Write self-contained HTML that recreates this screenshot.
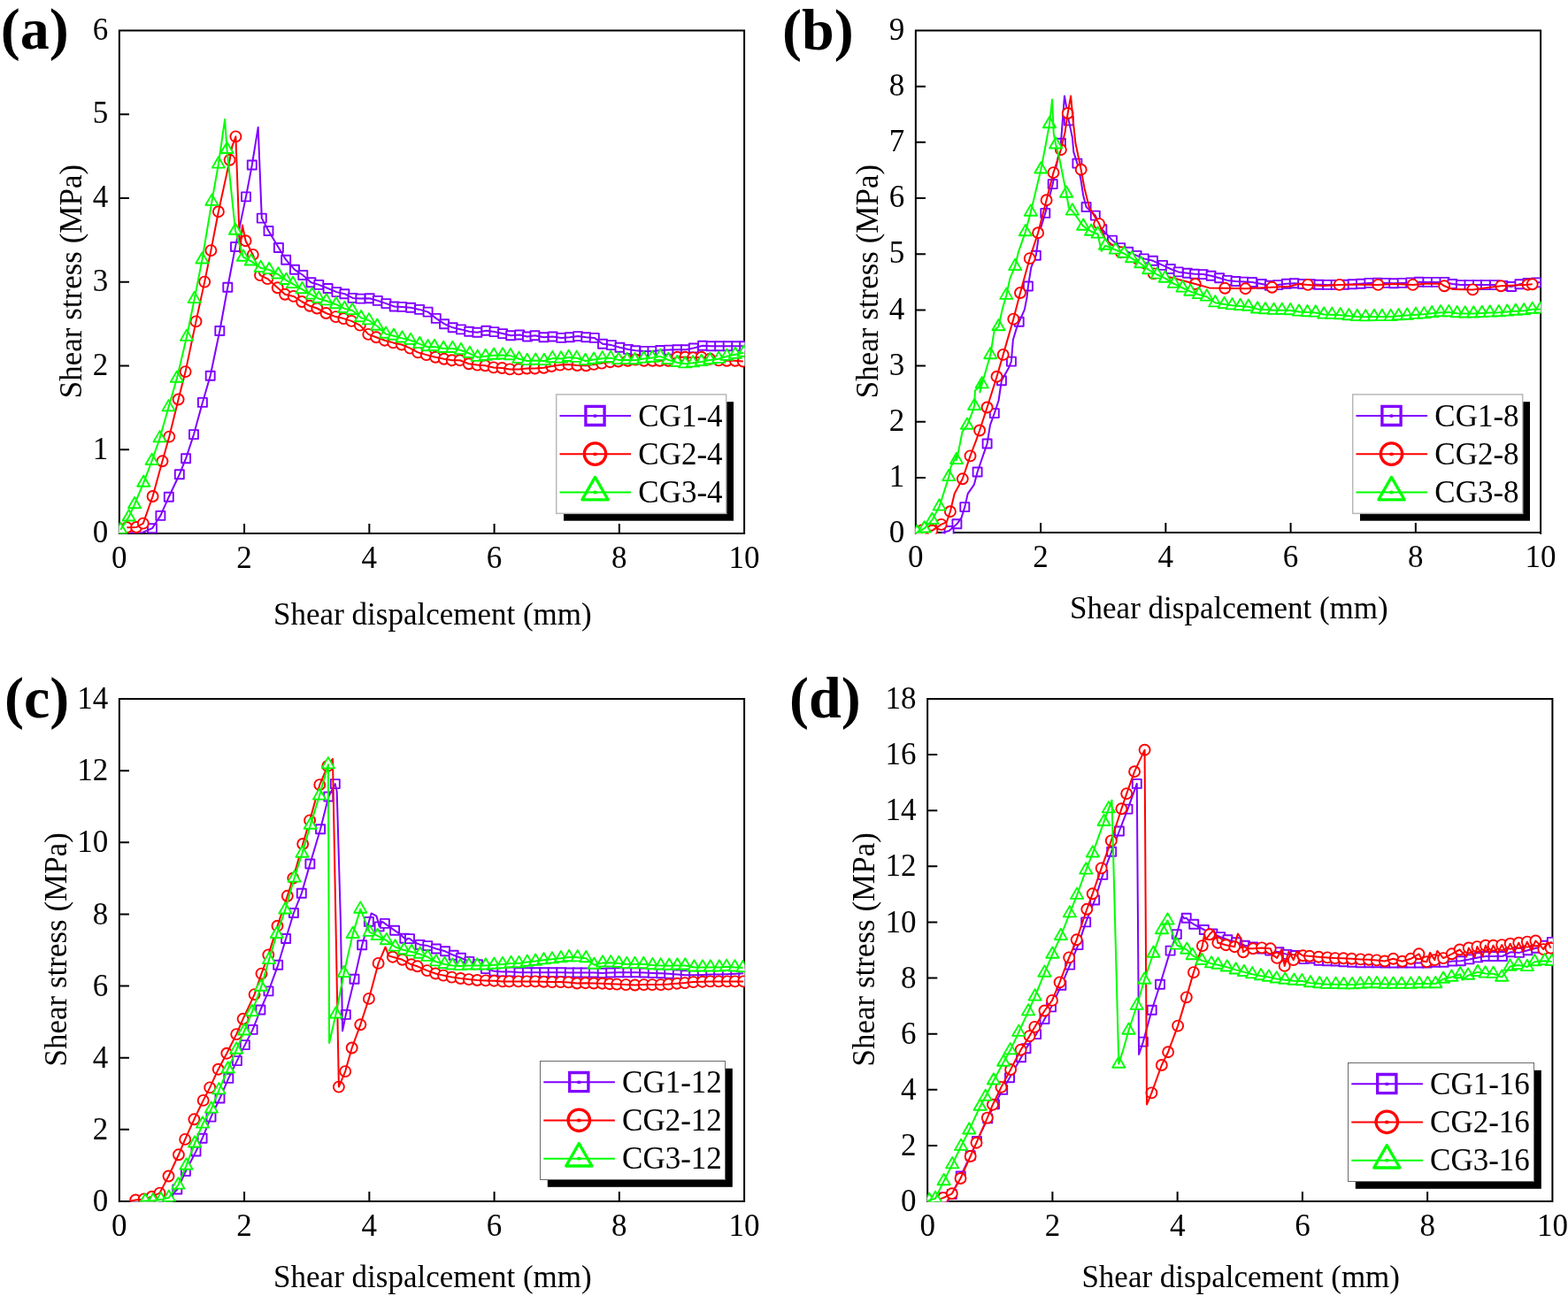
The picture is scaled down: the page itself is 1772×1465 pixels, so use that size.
<!DOCTYPE html>
<html lang="en">
<head>
<meta charset="utf-8">
<title>Shear stress versus shear displacement curves</title>
<style>
html,body{margin:0;padding:0;background:#fff;}
body{width:1772px;height:1465px;overflow:hidden;}
svg{display:block;font-family:"Liberation Serif","DejaVu Serif",serif;font-size:35px;fill:#000;}
</style>
</head>
<body>
<svg xmlns="http://www.w3.org/2000/svg" width="1772" height="1465" viewBox="0 0 1772 1465">
<rect width="1772" height="1465" fill="#fff"/>
<defs><path id="sq" d="M-5 -5h10v10h-10z"/><path id="ci" d="M-6 0a6 6 0 1 0 12 0a6 6 0 1 0 -12 0z"/><path id="tr" d="M0 -8.2L7.1 4.1L-7.1 4.1z"/></defs>
<g class="panel">
<text x="122.25" y="613.3" text-anchor="end">0</text>
<text x="122.25" y="518.53" text-anchor="end">1</text>
<text x="122.25" y="423.77" text-anchor="end">2</text>
<text x="122.25" y="329" text-anchor="end">3</text>
<text x="122.25" y="234.23" text-anchor="end">4</text>
<text x="122.25" y="139.47" text-anchor="end">5</text>
<text x="122.25" y="44.7" text-anchor="end">6</text>
<text x="134.85" y="642.2" text-anchor="middle">0</text>
<text x="276.1" y="642.2" text-anchor="middle">2</text>
<text x="417.35" y="642.2" text-anchor="middle">4</text>
<text x="558.6" y="642.2" text-anchor="middle">6</text>
<text x="699.85" y="642.2" text-anchor="middle">8</text>
<text x="841.1" y="642.2" text-anchor="middle">10</text>
<path d="M133.85 34.5H842.1M134.85 34.5V604.1M841.1 34.5V604.1M133.85 603.1H842.1M134.85 508.33h11.1M134.85 413.57h11.1M134.85 318.8h11.1M134.85 224.03h11.1M134.85 129.27h11.1M276.1 603.1v-11.1M417.35 603.1v-11.1M558.6 603.1v-11.1M699.85 603.1v-11.1" stroke="#000" stroke-width="2" fill="none"/>
<clipPath id="cp0"><rect x="134.35" y="34" width="707.25" height="569.6"/></clipPath>
<g clip-path="url(#cp0)" stroke-linejoin="round">
<g fill="#fff" stroke="#8000ff" stroke-width="1.9">
<use href="#sq" x="172" y="597.2"/><use href="#sq" x="181.4" y="582.9"/><use href="#sq" x="190.8" y="561.7"/><use href="#sq" x="202.8" y="536.3"/><use href="#sq" x="210.1" y="518.2"/><use href="#sq" x="219" y="491.1"/><use href="#sq" x="228.9" y="454.9"/><use href="#sq" x="237.7" y="424.7"/><use href="#sq" x="248.3" y="374"/><use href="#sq" x="257.3" y="324.8"/><use href="#sq" x="266" y="279"/><use href="#sq" x="278" y="222.4"/><use href="#sq" x="284.8" y="186.5"/><use href="#sq" x="295.8" y="246.6"/><use href="#sq" x="303.5" y="261"/><use href="#sq" x="314.9" y="280"/><use href="#sq" x="323.2" y="293.7"/><use href="#sq" x="333" y="304.8"/><use href="#sq" x="342.3" y="311"/><use href="#sq" x="351.5" y="319.2"/><use href="#sq" x="360.3" y="321.9"/><use href="#sq" x="370.6" y="326"/><use href="#sq" x="380.4" y="330.1"/><use href="#sq" x="389.4" y="332.2"/><use href="#sq" x="398.6" y="336.9"/><use href="#sq" x="407.4" y="337.6"/><use href="#sq" x="417.7" y="337.2"/><use href="#sq" x="426.8" y="339.9"/><use href="#sq" x="436.4" y="343.1"/><use href="#sq" x="445.7" y="346.5"/><use href="#sq" x="454.5" y="346.9"/><use href="#sq" x="464.1" y="347.8"/><use href="#sq" x="474.1" y="349.9"/><use href="#sq" x="483.6" y="352.6"/><use href="#sq" x="492.8" y="359.9"/><use href="#sq" x="502.1" y="366.2"/><use href="#sq" x="511.7" y="370.3"/><use href="#sq" x="521" y="372.4"/><use href="#sq" x="530.2" y="374.8"/><use href="#sq" x="539.4" y="375.8"/><use href="#sq" x="549.4" y="373.7"/><use href="#sq" x="558.5" y="375.1"/><use href="#sq" x="568.1" y="377.1"/><use href="#sq" x="577.2" y="379.2"/><use href="#sq" x="587.2" y="378.5"/><use href="#sq" x="596" y="380.5"/><use href="#sq" x="604.5" y="379.2"/><use href="#sq" x="614.5" y="381.2"/><use href="#sq" x="624.7" y="380.5"/><use href="#sq" x="634.3" y="381.9"/><use href="#sq" x="643.8" y="381.2"/><use href="#sq" x="653.1" y="380.1"/><use href="#sq" x="662.3" y="381.2"/><use href="#sq" x="671.8" y="381.9"/><use href="#sq" x="681" y="388.7"/><use href="#sq" x="690.9" y="390.1"/><use href="#sq" x="700.5" y="392.8"/><use href="#sq" x="710" y="394.9"/><use href="#sq" x="718.2" y="396.2"/><use href="#sq" x="728.5" y="396.9"/><use href="#sq" x="737.4" y="396.9"/><use href="#sq" x="746.3" y="396"/><use href="#sq" x="755.8" y="395.6"/><use href="#sq" x="765.4" y="395.2"/><use href="#sq" x="774.9" y="395.2"/><use href="#sq" x="783.8" y="393.5"/><use href="#sq" x="794.1" y="390.8"/><use href="#sq" x="803.6" y="391.2"/><use href="#sq" x="813.2" y="391.2"/><use href="#sq" x="822.7" y="391.2"/><use href="#sq" x="832.3" y="391.2"/><use href="#sq" x="841.2" y="391.2"/>
</g>
<path d="M145.6 602.3L161 602L172 597.2L181.4 582.9L190.8 561.7L202.8 536.3L210.1 518.2L219 491.1L228.9 454.9L237.7 424.7L248.3 374L257.3 324.8L266 279L278 222.4L284.8 186.5L291.7 143.9L295.8 246.6L303.5 261L314.9 280L323.2 293.7L333 304.8L342.3 311L351.5 319.2L360.3 321.9L370.6 326L380.4 330.1L389.4 332.2L398.6 336.9L407.4 337.6L417.7 337.2L426.8 339.9L436.4 343.1L445.7 346.5L454.5 346.9L464.1 347.8L474.1 349.9L483.6 352.6L492.8 359.9L502.1 366.2L511.7 370.3L521 372.4L530.2 374.8L539.4 375.8L549.4 373.7L558.5 375.1L568.1 377.1L577.2 379.2L587.2 378.5L596 380.5L604.5 379.2L614.5 381.2L624.7 380.5L634.3 381.9L643.8 381.2L653.1 380.1L662.3 381.2L671.8 381.9L681 388.7L690.9 390.1L700.5 392.8L710 394.9L718.2 396.2L728.5 396.9L737.4 396.9L746.3 396L755.8 395.6L765.4 395.2L774.9 395.2L783.8 393.5L794.1 390.8L803.6 391.2L813.2 391.2L822.7 391.2L832.3 391.2L841.2 391.2" fill="none" stroke="#8000ff" stroke-width="2.0"/>
<g fill="#fff" stroke="#ff0000" stroke-width="1.9">
<use href="#ci" x="143.4" y="596.3"/><use href="#ci" x="154.1" y="596"/><use href="#ci" x="161.8" y="591.6"/><use href="#ci" x="172.6" y="561"/><use href="#ci" x="183.5" y="521.3"/><use href="#ci" x="191.3" y="493.6"/><use href="#ci" x="201.6" y="451.5"/><use href="#ci" x="209.6" y="420.1"/><use href="#ci" x="221.5" y="363.4"/><use href="#ci" x="231.2" y="318.6"/><use href="#ci" x="238.4" y="283.1"/><use href="#ci" x="246.9" y="239.2"/><use href="#ci" x="259.6" y="180.8"/><use href="#ci" x="266.4" y="154.4"/><use href="#ci" x="277.6" y="272.2"/><use href="#ci" x="285.8" y="287.9"/><use href="#ci" x="294" y="311.1"/><use href="#ci" x="302.3" y="315.1"/><use href="#ci" x="313.7" y="325.3"/><use href="#ci" x="322.1" y="332.8"/><use href="#ci" x="331.7" y="334.9"/><use href="#ci" x="341.2" y="341"/><use href="#ci" x="350.1" y="345.8"/><use href="#ci" x="358.3" y="348.5"/><use href="#ci" x="368.5" y="354"/><use href="#ci" x="379.5" y="358.1"/><use href="#ci" x="388.3" y="360.1"/><use href="#ci" x="397.2" y="362.9"/><use href="#ci" x="406.8" y="367.6"/><use href="#ci" x="416.3" y="377.9"/><use href="#ci" x="425.2" y="381.3"/><use href="#ci" x="434.7" y="384.7"/><use href="#ci" x="444.3" y="387.4"/><use href="#ci" x="453.9" y="389.5"/><use href="#ci" x="463.4" y="393.6"/><use href="#ci" x="472.3" y="398.4"/><use href="#ci" x="481.8" y="401.1"/><use href="#ci" x="492.1" y="403.8"/><use href="#ci" x="501.8" y="405.8"/><use href="#ci" x="510.7" y="407.2"/><use href="#ci" x="519.6" y="407.2"/><use href="#ci" x="529.8" y="411.3"/><use href="#ci" x="539.4" y="412.6"/><use href="#ci" x="548.3" y="413.3"/><use href="#ci" x="557.8" y="415.4"/><use href="#ci" x="567.4" y="416"/><use href="#ci" x="576.2" y="417.4"/><use href="#ci" x="586.2" y="417.4"/><use href="#ci" x="595.4" y="416.5"/><use href="#ci" x="604.5" y="416.5"/><use href="#ci" x="614.5" y="415.8"/><use href="#ci" x="623.3" y="414"/><use href="#ci" x="632.9" y="412.6"/><use href="#ci" x="642.5" y="411.9"/><use href="#ci" x="652.3" y="413"/><use href="#ci" x="662.3" y="413.3"/><use href="#ci" x="671.1" y="411.9"/><use href="#ci" x="680" y="410.6"/><use href="#ci" x="689.6" y="409.2"/><use href="#ci" x="698.8" y="408.5"/><use href="#ci" x="709.4" y="407.8"/><use href="#ci" x="718.2" y="406.5"/><use href="#ci" x="727.8" y="407.8"/><use href="#ci" x="737.4" y="407.8"/><use href="#ci" x="745.6" y="407.8"/><use href="#ci" x="755.2" y="407.8"/><use href="#ci" x="765.4" y="403.8"/><use href="#ci" x="774.3" y="403.8"/><use href="#ci" x="783.1" y="404.4"/><use href="#ci" x="792.7" y="403.8"/><use href="#ci" x="802.3" y="405.8"/><use href="#ci" x="812.2" y="407.4"/><use href="#ci" x="821.4" y="407.8"/><use href="#ci" x="830.9" y="407.8"/><use href="#ci" x="839.8" y="408.5"/>
</g>
<path d="M143.4 596.3L154.1 596L161.8 591.6L172.6 561L183.5 521.3L191.3 493.6L201.6 451.5L209.6 420.1L221.5 363.4L231.2 318.6L238.4 283.1L246.9 239.2L259.6 180.8L262.3 165.7L266.4 154.4L271.2 285.2L273.9 254.5L277.6 272.2L285.8 287.9L294 311.1L302.3 315.1L313.7 325.3L322.1 332.8L331.7 334.9L341.2 341L350.1 345.8L358.3 348.5L368.5 354L379.5 358.1L388.3 360.1L397.2 362.9L406.8 367.6L416.3 377.9L425.2 381.3L434.7 384.7L444.3 387.4L453.9 389.5L463.4 393.6L472.3 398.4L481.8 401.1L492.1 403.8L501.8 405.8L510.7 407.2L519.6 407.2L529.8 411.3L539.4 412.6L548.3 413.3L557.8 415.4L567.4 416L576.2 417.4L586.2 417.4L595.4 416.5L604.5 416.5L614.5 415.8L623.3 414L632.9 412.6L642.5 411.9L652.3 413L662.3 413.3L671.1 411.9L680 410.6L689.6 409.2L698.8 408.5L709.4 407.8L718.2 406.5L727.8 407.8L737.4 407.8L745.6 407.8L755.2 407.8L765.4 403.8L774.3 403.8L783.1 404.4L792.7 403.8L802.3 405.8L812.2 407.4L821.4 407.8L830.9 407.8L839.8 408.5" fill="none" stroke="#ff0000" stroke-width="2.0"/>
<g fill="#fff" stroke="#00ff00" stroke-width="1.9">
<use href="#tr" x="136.2" y="598.9"/><use href="#tr" x="145.6" y="584.4"/><use href="#tr" x="152.1" y="570.2"/><use href="#tr" x="162.3" y="545.7"/><use href="#tr" x="171.7" y="520.9"/><use href="#tr" x="180.6" y="495.3"/><use href="#tr" x="190.5" y="460.3"/><use href="#tr" x="199.9" y="427.7"/><use href="#tr" x="211" y="380.8"/><use href="#tr" x="219.7" y="338"/><use href="#tr" x="228.5" y="293.4"/><use href="#tr" x="239.4" y="227.8"/><use href="#tr" x="246.9" y="185.5"/><use href="#tr" x="256.5" y="168.9"/><use href="#tr" x="266" y="260.6"/><use href="#tr" x="274.9" y="290.6"/><use href="#tr" x="283.8" y="295.4"/><use href="#tr" x="294.7" y="302.9"/><use href="#tr" x="304.2" y="305"/><use href="#tr" x="314.5" y="310.4"/><use href="#tr" x="323.5" y="316.9"/><use href="#tr" x="331" y="321"/><use href="#tr" x="341.5" y="327.1"/><use href="#tr" x="352.6" y="333.5"/><use href="#tr" x="360.3" y="337.6"/><use href="#tr" x="368.9" y="340.3"/><use href="#tr" x="379.9" y="344.2"/><use href="#tr" x="389.4" y="348.9"/><use href="#tr" x="398.2" y="351"/><use href="#tr" x="408.1" y="359.2"/><use href="#tr" x="417" y="362.3"/><use href="#tr" x="426.3" y="368.7"/><use href="#tr" x="436.1" y="377.6"/><use href="#tr" x="445" y="379.7"/><use href="#tr" x="454.5" y="382.4"/><use href="#tr" x="464.1" y="384.8"/><use href="#tr" x="474.3" y="388.9"/><use href="#tr" x="483.6" y="392.2"/><use href="#tr" x="491" y="391.9"/><use href="#tr" x="501.2" y="393.9"/><use href="#tr" x="511.4" y="393.9"/><use href="#tr" x="521" y="396"/><use href="#tr" x="530.9" y="399.8"/><use href="#tr" x="539.7" y="403.8"/><use href="#tr" x="548.7" y="402.8"/><use href="#tr" x="558.1" y="401.7"/><use href="#tr" x="568.1" y="401.4"/><use href="#tr" x="576.9" y="402.1"/><use href="#tr" x="586.5" y="405.8"/><use href="#tr" x="595.8" y="408"/><use href="#tr" x="605.3" y="407.6"/><use href="#tr" x="614.9" y="408"/><use href="#tr" x="624.3" y="405.1"/><use href="#tr" x="634" y="405.5"/><use href="#tr" x="642.7" y="403.9"/><use href="#tr" x="651.7" y="404.8"/><use href="#tr" x="661.6" y="408"/><use href="#tr" x="671.1" y="406.6"/><use href="#tr" x="680.7" y="405.3"/><use href="#tr" x="690.2" y="404.8"/><use href="#tr" x="699.1" y="406.9"/><use href="#tr" x="708.7" y="406.9"/><use href="#tr" x="717.5" y="407.2"/><use href="#tr" x="727.6" y="405.5"/><use href="#tr" x="737.1" y="404.6"/><use href="#tr" x="746.3" y="402.8"/><use href="#tr" x="755.2" y="406.9"/><use href="#tr" x="765.4" y="409.9"/><use href="#tr" x="774.3" y="411.3"/><use href="#tr" x="783.1" y="410.3"/><use href="#tr" x="792.7" y="408.9"/><use href="#tr" x="802.3" y="406.9"/><use href="#tr" x="812.2" y="405.8"/><use href="#tr" x="821.4" y="402.8"/><use href="#tr" x="830.9" y="400.8"/><use href="#tr" x="840.5" y="398.7"/>
</g>
<path d="M136.2 598.9L145.6 584.4L152.1 570.2L162.3 545.7L171.7 520.9L180.6 495.3L190.5 460.3L199.9 427.7L211 380.8L219.7 338L228.5 293.4L239.4 227.8L246.9 185.5L254.1 135L256.5 168.9L266 260.6L274.9 290.6L283.8 295.4L294.7 302.9L304.2 305L314.5 310.4L323.5 316.9L331 321L341.5 327.1L352.6 333.5L360.3 337.6L368.9 340.3L379.9 344.2L389.4 348.9L398.2 351L408.1 359.2L417 362.3L426.3 368.7L436.1 377.6L445 379.7L454.5 382.4L464.1 384.8L474.3 388.9L483.6 392.2L491 391.9L501.2 393.9L511.4 393.9L521 396L530.9 399.8L539.7 403.8L548.7 402.8L558.1 401.7L568.1 401.4L576.9 402.1L586.5 405.8L595.8 408L605.3 407.6L614.9 408L624.3 405.1L634 405.5L642.7 403.9L651.7 404.8L661.6 408L671.1 406.6L680.7 405.3L690.2 404.8L699.1 406.9L708.7 406.9L717.5 407.2L727.6 405.5L737.1 404.6L746.3 402.8L755.2 406.9L765.4 409.9L774.3 411.3L783.1 410.3L792.7 408.9L802.3 406.9L812.2 405.8L821.4 402.8L830.9 400.8L840.5 398.7" fill="none" stroke="#00ff00" stroke-width="2.0"/>
</g>
<text x="488.9" y="706" text-anchor="middle">Shear dispalcement (mm)</text>
<text transform="translate(92.3 318.1) rotate(-90)" text-anchor="middle">Shear stress (MPa)</text>
<text x="0.7" y="55.4" font-size="66" font-weight="bold">(a)</text>
<rect x="637" y="454.2" width="192" height="134.5" fill="#000"/>
<rect x="628.7" y="445.9" width="192" height="134.5" fill="#fff" stroke="#b8b8b8" stroke-width="1.5"/>
<path d="M632.5 470.1h80.6" stroke="#8000ff" stroke-width="2" fill="none"/>
<path d="M661.9 459.3h21.2v21.2h-21.2z" stroke="#8000ff" stroke-width="3.3" fill="none" stroke-linejoin="miter"/>
<ellipse cx="672.5" cy="470.1" rx="2.5" ry="1.9" fill="#8000ff"/>
<text x="721.3" y="481.7">CG1-4</text>
<path d="M632.5 513.3h80.6" stroke="#ff0000" stroke-width="2" fill="none"/>
<path d="M660.3 513.1a12.2 12.2 0 1 0 24.4 0a12.2 12.2 0 1 0 -24.4 0z" stroke="#ff0000" stroke-width="3.3" fill="none" stroke-linejoin="round"/>
<ellipse cx="672.5" cy="513.3" rx="2.5" ry="1.9" fill="#ff0000"/>
<text x="721.3" y="524.9">CG2-4</text>
<path d="M632.5 556.5h80.6" stroke="#00ff00" stroke-width="2" fill="none"/>
<path d="M672.5 539.4L687.1 564.8L657.9 564.8z" stroke="#00ff00" stroke-width="3.3" fill="none" stroke-linejoin="round"/>
<ellipse cx="672.5" cy="556.5" rx="2.5" ry="1.9" fill="#00ff00"/>
<text x="721.3" y="568.1">CG3-4</text>
</g>
<g class="panel">
<text x="1022.25" y="613.3" text-anchor="end">0</text>
<text x="1022.25" y="550.12" text-anchor="end">1</text>
<text x="1022.25" y="486.94" text-anchor="end">2</text>
<text x="1022.25" y="423.77" text-anchor="end">3</text>
<text x="1022.25" y="360.59" text-anchor="end">4</text>
<text x="1022.25" y="297.41" text-anchor="end">5</text>
<text x="1022.25" y="234.23" text-anchor="end">6</text>
<text x="1022.25" y="171.06" text-anchor="end">7</text>
<text x="1022.25" y="107.88" text-anchor="end">8</text>
<text x="1022.25" y="44.7" text-anchor="end">9</text>
<text x="1034.85" y="641.1" text-anchor="middle">0</text>
<text x="1176.1" y="641.1" text-anchor="middle">2</text>
<text x="1317.35" y="641.1" text-anchor="middle">4</text>
<text x="1458.6" y="641.1" text-anchor="middle">6</text>
<text x="1599.85" y="641.1" text-anchor="middle">8</text>
<text x="1741.1" y="641.1" text-anchor="middle">10</text>
<path d="M1033.85 34.5H1742.1M1034.85 34.5V604.1M1741.1 34.5V604.1M1033.85 602H1741.1M1034.85 539.92h11.1M1034.85 476.74h11.1M1034.85 413.57h11.1M1034.85 350.39h11.1M1034.85 287.21h11.1M1034.85 224.03h11.1M1034.85 160.86h11.1M1034.85 97.68h11.1M1176.1 602v-11.1M1317.35 602v-11.1M1458.6 602v-11.1M1599.85 602v-11.1" stroke="#000" stroke-width="2" fill="none"/>
<clipPath id="cp1"><rect x="1034.35" y="34" width="707.25" height="569.6"/></clipPath>
<g clip-path="url(#cp1)" stroke-linejoin="round">
<g fill="#fff" stroke="#8000ff" stroke-width="1.9">
<use href="#sq" x="1072.6" y="600"/><use href="#sq" x="1081.4" y="592.3"/><use href="#sq" x="1090.3" y="573.1"/><use href="#sq" x="1104.6" y="533.5"/><use href="#sq" x="1115.6" y="501.5"/><use href="#sq" x="1123.8" y="467.1"/><use href="#sq" x="1131.9" y="430.2"/><use href="#sq" x="1142.9" y="408.6"/><use href="#sq" x="1151.7" y="363.8"/><use href="#sq" x="1161.9" y="323.5"/><use href="#sq" x="1170.8" y="288.7"/><use href="#sq" x="1181.3" y="240.9"/><use href="#sq" x="1189.7" y="208.1"/><use href="#sq" x="1198.9" y="161.7"/><use href="#sq" x="1207.8" y="136.4"/><use href="#sq" x="1217.4" y="184.6"/><use href="#sq" x="1227.6" y="234"/><use href="#sq" x="1237.8" y="243.6"/><use href="#sq" x="1245.4" y="259.3"/><use href="#sq" x="1257" y="271.6"/><use href="#sq" x="1266.2" y="280.1"/><use href="#sq" x="1275.1" y="284.8"/><use href="#sq" x="1284.6" y="288.9"/><use href="#sq" x="1292.8" y="292.4"/><use href="#sq" x="1303" y="294.8"/><use href="#sq" x="1314" y="299.9"/><use href="#sq" x="1322.8" y="304"/><use href="#sq" x="1331.7" y="307.4"/><use href="#sq" x="1341.9" y="308.7"/><use href="#sq" x="1350.1" y="309.8"/><use href="#sq" x="1359.7" y="310.1"/><use href="#sq" x="1368.6" y="311.7"/><use href="#sq" x="1378.1" y="314.2"/><use href="#sq" x="1387" y="316.9"/><use href="#sq" x="1396.6" y="318"/><use href="#sq" x="1406.1" y="318.6"/><use href="#sq" x="1415" y="319"/><use href="#sq" x="1425.9" y="321"/><use href="#sq" x="1434.8" y="322.7"/><use href="#sq" x="1444.3" y="322.1"/><use href="#sq" x="1453.9" y="320.8"/><use href="#sq" x="1462.8" y="320.3"/><use href="#sq" x="1472.1" y="321"/><use href="#sq" x="1481" y="321.3"/><use href="#sq" x="1490.5" y="321.7"/><use href="#sq" x="1500.1" y="321.9"/><use href="#sq" x="1509.6" y="321.9"/><use href="#sq" x="1519.2" y="321.7"/><use href="#sq" x="1528.7" y="321.3"/><use href="#sq" x="1538" y="320.7"/><use href="#sq" x="1547.4" y="319.9"/><use href="#sq" x="1556.7" y="319.6"/><use href="#sq" x="1566.3" y="319.9"/><use href="#sq" x="1575.2" y="320.3"/><use href="#sq" x="1584.7" y="319.9"/><use href="#sq" x="1594.3" y="319.4"/><use href="#sq" x="1603.8" y="318.7"/><use href="#sq" x="1613.4" y="318.9"/><use href="#sq" x="1622.9" y="318.9"/><use href="#sq" x="1632.5" y="318.9"/><use href="#sq" x="1641.4" y="321"/><use href="#sq" x="1650.9" y="322.1"/><use href="#sq" x="1660.5" y="322.1"/><use href="#sq" x="1670" y="322.1"/><use href="#sq" x="1678.9" y="322.1"/><use href="#sq" x="1689" y="322.1"/><use href="#sq" x="1698.6" y="323"/><use href="#sq" x="1708.1" y="324"/><use href="#sq" x="1717.4" y="321.3"/><use href="#sq" x="1726.5" y="319.9"/><use href="#sq" x="1736.1" y="319.4"/>
</g>
<path d="M1063.7 602.6L1072.6 600L1081.4 592.3L1086.5 585.4L1090.3 573.1L1093.7 558.1L1100.8 547.9L1104.6 533.5L1115.6 501.5L1119 480.3L1123.8 467.1L1128.5 453L1131.9 430.2L1140.1 415.5L1142.9 408.6L1144.8 384.3L1148.9 370.6L1151.7 363.8L1157.8 350.1L1160.5 336.5L1161.9 323.5L1165.3 302.4L1170.8 288.7L1174.2 264.1L1181.3 240.9L1189.7 208.1L1198.9 161.7L1203 108.4L1207.8 136.4L1211.9 155.5L1213.3 171.9L1217.4 184.6L1221.5 203.3L1224.2 221.1L1227.6 234L1237.8 243.6L1245.4 259.3L1257 271.6L1266.2 280.1L1275.1 284.8L1284.6 288.9L1292.8 292.4L1303 294.8L1314 299.9L1322.8 304L1331.7 307.4L1341.9 308.7L1350.1 309.8L1359.7 310.1L1368.6 311.7L1378.1 314.2L1387 316.9L1396.6 318L1406.1 318.6L1415 319L1425.9 321L1434.8 322.7L1444.3 322.1L1453.9 320.8L1462.8 320.3L1472.1 321L1481 321.3L1490.5 321.7L1500.1 321.9L1509.6 321.9L1519.2 321.7L1528.7 321.3L1538 320.7L1547.4 319.9L1556.7 319.6L1566.3 319.9L1575.2 320.3L1584.7 319.9L1594.3 319.4L1603.8 318.7L1613.4 318.9L1622.9 318.9L1632.5 318.9L1641.4 321L1650.9 322.1L1660.5 322.1L1670 322.1L1678.9 322.1L1689 322.1L1698.6 323L1708.1 324L1717.4 321.3L1726.5 319.9L1736.1 319.4L1741.6 318.9" fill="none" stroke="#8000ff" stroke-width="2.0"/>
<g fill="#fff" stroke="#ff0000" stroke-width="1.9">
<use href="#ci" x="1042.5" y="599.1"/><use href="#ci" x="1053.4" y="599.8"/><use href="#ci" x="1063.7" y="592.9"/><use href="#ci" x="1073.9" y="578.2"/><use href="#ci" x="1087.8" y="541.3"/><use href="#ci" x="1096.5" y="515.4"/><use href="#ci" x="1107.1" y="486.5"/><use href="#ci" x="1115.6" y="460.5"/><use href="#ci" x="1126.5" y="425.7"/><use href="#ci" x="1133.7" y="400.9"/><use href="#ci" x="1145.3" y="360.6"/><use href="#ci" x="1153" y="331"/><use href="#ci" x="1163.7" y="292.1"/><use href="#ci" x="1173.1" y="263.2"/><use href="#ci" x="1182.6" y="226.2"/><use href="#ci" x="1190.5" y="195.1"/><use href="#ci" x="1198.9" y="169.2"/><use href="#ci" x="1206.7" y="128"/><use href="#ci" x="1221.7" y="191.7"/><use href="#ci" x="1242.2" y="253.1"/><use href="#ci" x="1266.9" y="285.3"/><use href="#ci" x="1303.7" y="309.4"/><use href="#ci" x="1350.8" y="321"/><use href="#ci" x="1384.3" y="325.8"/><use href="#ci" x="1407.5" y="326.2"/><use href="#ci" x="1437.5" y="324.8"/><use href="#ci" x="1478" y="321.9"/><use href="#ci" x="1513.7" y="321.9"/><use href="#ci" x="1557.4" y="321.9"/><use href="#ci" x="1596.6" y="321.9"/><use href="#ci" x="1632.2" y="323.3"/><use href="#ci" x="1664.3" y="327.4"/><use href="#ci" x="1696.2" y="323.3"/><use href="#ci" x="1726.5" y="321.7"/><use href="#ci" x="1731.7" y="321.3"/>
</g>
<path d="M1037.7 601.1L1042.5 599.1L1053.4 599.8L1063.7 592.9L1069.8 590.2L1073.9 578.2L1078.7 558.1L1087.8 541.3L1096.5 515.4L1103.3 497.4L1107.1 486.5L1115.6 460.5L1126.5 425.7L1133.7 400.9L1145.3 360.6L1153 331L1163.7 292.1L1173.1 263.2L1182.6 226.2L1190.5 195.1L1198.9 169.2L1203.7 148.7L1206.7 128L1210.1 108.4L1212.6 135.1L1215.3 161L1221.7 191.7L1225.6 212.9L1231 234.7L1242.2 253.1L1249.1 270.5L1266.9 285.3L1284.6 299.2L1303.7 309.4L1325.6 314.2L1350.8 321L1366.5 325.4L1384.3 325.8L1407.5 326.2L1437.5 324.8L1457.7 323.7L1467.3 321L1478 321.9L1494.6 323L1513.7 321.9L1535.6 321.7L1557.4 321.9L1576.5 321L1596.6 321.9L1610.6 320.7L1628.4 320.7L1632.2 323.3L1642 327.1L1664.3 327.4L1682.2 325.1L1696.2 323.3L1712.2 322.4L1726.5 321.7L1731.7 321.3" fill="none" stroke="#ff0000" stroke-width="2.0"/>
<g fill="#fff" stroke="#00ff00" stroke-width="1.9">
<use href="#tr" x="1036.4" y="601.8"/><use href="#tr" x="1044.6" y="597.4"/><use href="#tr" x="1053.4" y="587.9"/><use href="#tr" x="1061.6" y="572.5"/><use href="#tr" x="1072.3" y="539"/><use href="#tr" x="1081" y="520"/><use href="#tr" x="1093" y="480.7"/><use href="#tr" x="1101.2" y="458.9"/><use href="#tr" x="1109.7" y="434.3"/><use href="#tr" x="1119.3" y="401.1"/><use href="#tr" x="1128.5" y="369.2"/><use href="#tr" x="1137.3" y="333.8"/><use href="#tr" x="1147.2" y="301"/><use href="#tr" x="1158.9" y="262.1"/><use href="#tr" x="1164.9" y="239.6"/><use href="#tr" x="1176.4" y="191.4"/><use href="#tr" x="1186" y="140.2"/><use href="#tr" x="1193.2" y="163.4"/><use href="#tr" x="1205.1" y="218.7"/><use href="#tr" x="1211.9" y="238.5"/><use href="#tr" x="1224.2" y="255.6"/><use href="#tr" x="1233.1" y="261.7"/><use href="#tr" x="1240.6" y="264.5"/><use href="#tr" x="1249.1" y="277.7"/><use href="#tr" x="1260.7" y="282.5"/><use href="#tr" x="1270.3" y="286.6"/><use href="#tr" x="1279.1" y="292.1"/><use href="#tr" x="1289.4" y="298.2"/><use href="#tr" x="1298.3" y="305.1"/><use href="#tr" x="1307.8" y="310.5"/><use href="#tr" x="1316.7" y="314.6"/><use href="#tr" x="1326.9" y="320.8"/><use href="#tr" x="1336.5" y="325.5"/><use href="#tr" x="1345.4" y="329.6"/><use href="#tr" x="1354.9" y="333"/><use href="#tr" x="1363.8" y="335.5"/><use href="#tr" x="1373.3" y="342.3"/><use href="#tr" x="1383.6" y="344"/><use href="#tr" x="1392.5" y="345.3"/><use href="#tr" x="1401.7" y="346"/><use href="#tr" x="1410.9" y="346.7"/><use href="#tr" x="1421.1" y="349.4"/><use href="#tr" x="1430" y="350.1"/><use href="#tr" x="1439.6" y="350.8"/><use href="#tr" x="1448.8" y="350.8"/><use href="#tr" x="1458.3" y="351.1"/><use href="#tr" x="1468" y="352.5"/><use href="#tr" x="1477.5" y="353.1"/><use href="#tr" x="1486.8" y="353.5"/><use href="#tr" x="1496.2" y="355.5"/><use href="#tr" x="1505.3" y="355.8"/><use href="#tr" x="1514.8" y="356.2"/><use href="#tr" x="1524.4" y="357.2"/><use href="#tr" x="1533.8" y="358"/><use href="#tr" x="1543.3" y="358.3"/><use href="#tr" x="1553" y="358"/><use href="#tr" x="1561.9" y="358"/><use href="#tr" x="1571.7" y="358"/><use href="#tr" x="1580.6" y="357.2"/><use href="#tr" x="1590.2" y="356.6"/><use href="#tr" x="1600" y="355.8"/><use href="#tr" x="1609.3" y="355.3"/><use href="#tr" x="1618.2" y="354.2"/><use href="#tr" x="1628.1" y="353.2"/><use href="#tr" x="1637.3" y="353.1"/><use href="#tr" x="1646.6" y="354.2"/><use href="#tr" x="1655.7" y="354.4"/><use href="#tr" x="1665.3" y="354.4"/><use href="#tr" x="1674.8" y="353.9"/><use href="#tr" x="1683.8" y="353.5"/><use href="#tr" x="1693.8" y="353.2"/><use href="#tr" x="1703.3" y="352.5"/><use href="#tr" x="1712.9" y="351.7"/><use href="#tr" x="1722.2" y="351.2"/><use href="#tr" x="1731.7" y="349.8"/><use href="#tr" x="1740.9" y="349.4"/>
</g>
<path d="M1035.3 602.6L1036.4 601.8L1044.6 597.4L1053.4 587.9L1061.6 572.5L1072.3 539L1074.6 527.4L1079 519.6L1082.1 512.7L1081 520L1083.5 508.6L1087.6 487.8L1093 480.7L1097.8 468.7L1101.2 458.9L1101.9 441.4L1106 438L1108.7 428.4L1107.4 443.4L1109.7 434.3L1119.3 401.1L1123.7 373.3L1128.5 369.2L1132.6 350.1L1137.3 333.8L1141.4 314.6L1147.2 301L1151 284.6L1158.9 262.1L1164.9 239.6L1176.4 191.4L1181.2 166.5L1186 140.2L1189.1 112.5L1190.8 151.4L1193.2 163.4L1196.9 177.4L1205.1 218.7L1207.8 234.7L1211.9 238.5L1224.2 255.6L1233.1 261.7L1240.6 264.5L1244.7 283.9L1249.1 277.7L1260.7 282.5L1270.3 286.6L1279.1 292.1L1289.4 298.2L1298.3 305.1L1307.8 310.5L1316.7 314.6L1326.9 320.8L1336.5 325.5L1345.4 329.6L1354.9 333L1363.8 335.5L1373.3 342.3L1383.6 344L1392.5 345.3L1401.7 346L1410.9 346.7L1421.1 349.4L1430 350.1L1439.6 350.8L1448.8 350.8L1458.3 351.1L1468 352.5L1477.5 353.1L1486.8 353.5L1496.2 355.5L1505.3 355.8L1514.8 356.2L1524.4 357.2L1533.8 358L1543.3 358.3L1553 358L1561.9 358L1571.7 358L1580.6 357.2L1590.2 356.6L1600 355.8L1609.3 355.3L1618.2 354.2L1628.1 353.2L1637.3 353.1L1646.6 354.2L1655.7 354.4L1665.3 354.4L1674.8 353.9L1683.8 353.5L1693.8 353.2L1703.3 352.5L1712.9 351.7L1722.2 351.2L1731.7 349.8L1740.9 349.4" fill="none" stroke="#00ff00" stroke-width="2.0"/>
</g>
<text x="1388.9" y="699" text-anchor="middle">Shear dispalcement (mm)</text>
<text transform="translate(992.3 318.1) rotate(-90)" text-anchor="middle">Shear stress (MPa)</text>
<text x="884" y="56" font-size="66" font-weight="bold">(b)</text>
<rect x="1537" y="454.2" width="192" height="134.5" fill="#000"/>
<rect x="1528.7" y="445.9" width="192" height="134.5" fill="#fff" stroke="#b8b8b8" stroke-width="1.5"/>
<path d="M1532.5 470.1h80.6" stroke="#8000ff" stroke-width="2" fill="none"/>
<path d="M1561.9 459.3h21.2v21.2h-21.2z" stroke="#8000ff" stroke-width="3.3" fill="none" stroke-linejoin="miter"/>
<ellipse cx="1572.5" cy="470.1" rx="2.5" ry="1.9" fill="#8000ff"/>
<text x="1621.3" y="481.7">CG1-8</text>
<path d="M1532.5 513.3h80.6" stroke="#ff0000" stroke-width="2" fill="none"/>
<path d="M1560.3 513.1a12.2 12.2 0 1 0 24.4 0a12.2 12.2 0 1 0 -24.4 0z" stroke="#ff0000" stroke-width="3.3" fill="none" stroke-linejoin="round"/>
<ellipse cx="1572.5" cy="513.3" rx="2.5" ry="1.9" fill="#ff0000"/>
<text x="1621.3" y="524.9">CG2-8</text>
<path d="M1532.5 556.5h80.6" stroke="#00ff00" stroke-width="2" fill="none"/>
<path d="M1572.5 539.4L1587.1 564.8L1557.9 564.8z" stroke="#00ff00" stroke-width="3.3" fill="none" stroke-linejoin="round"/>
<ellipse cx="1572.5" cy="556.5" rx="2.5" ry="1.9" fill="#00ff00"/>
<text x="1621.3" y="568.1">CG3-8</text>
</g>
<g class="panel">
<text x="122.25" y="1369.1" text-anchor="end">0</text>
<text x="122.25" y="1287.96" text-anchor="end">2</text>
<text x="122.25" y="1206.81" text-anchor="end">4</text>
<text x="122.25" y="1125.67" text-anchor="end">6</text>
<text x="122.25" y="1044.53" text-anchor="end">8</text>
<text x="122.25" y="963.39" text-anchor="end">10</text>
<text x="122.25" y="882.24" text-anchor="end">12</text>
<text x="122.25" y="801.1" text-anchor="end">14</text>
<text x="134.85" y="1397.1" text-anchor="middle">0</text>
<text x="276.1" y="1397.1" text-anchor="middle">2</text>
<text x="417.35" y="1397.1" text-anchor="middle">4</text>
<text x="558.6" y="1397.1" text-anchor="middle">6</text>
<text x="699.85" y="1397.1" text-anchor="middle">8</text>
<text x="841.1" y="1397.1" text-anchor="middle">10</text>
<path d="M133.85 790H842.1M134.85 790V1359M841.1 790V1359M133.85 1358H842.1M134.85 1276.86h11.1M134.85 1195.71h11.1M134.85 1114.57h11.1M134.85 1033.43h11.1M134.85 952.29h11.1M134.85 871.14h11.1M276.1 1358v-11.1M417.35 1358v-11.1M558.6 1358v-11.1M699.85 1358v-11.1" stroke="#000" stroke-width="2" fill="none"/>
<clipPath id="cp2"><rect x="134.35" y="789.5" width="707.25" height="569"/></clipPath>
<g clip-path="url(#cp2)" stroke-linejoin="round">
<g fill="#fff" stroke="#8000ff" stroke-width="1.9">
<use href="#sq" x="190.1" y="1355.4"/><use href="#sq" x="200.3" y="1344.5"/><use href="#sq" x="209.9" y="1324"/><use href="#sq" x="221.5" y="1301.5"/><use href="#sq" x="228.6" y="1286.8"/><use href="#sq" x="238.5" y="1262.6"/><use href="#sq" x="248.5" y="1241.5"/><use href="#sq" x="258.3" y="1218.9"/><use href="#sq" x="267.9" y="1199.1"/><use href="#sq" x="276.8" y="1181.1"/><use href="#sq" x="285.6" y="1163.9"/><use href="#sq" x="294.4" y="1141.5"/><use href="#sq" x="303.5" y="1120.4"/><use href="#sq" x="314.2" y="1090.8"/><use href="#sq" x="323.1" y="1061"/><use href="#sq" x="331.9" y="1032"/><use href="#sq" x="340.8" y="1009.8"/><use href="#sq" x="350.4" y="976.5"/><use href="#sq" x="362.1" y="937.2"/><use href="#sq" x="371.3" y="900.5"/><use href="#sq" x="378.8" y="886.1"/><use href="#sq" x="390.8" y="1146.9"/><use href="#sq" x="400.5" y="1106.7"/><use href="#sq" x="409.2" y="1068.2"/><use href="#sq" x="416.9" y="1041.9"/><use href="#sq" x="428.6" y="1047.4"/><use href="#sq" x="434.9" y="1043.9"/><use href="#sq" x="446.1" y="1051.8"/><use href="#sq" x="457.3" y="1060.8"/><use href="#sq" x="463" y="1061.1"/><use href="#sq" x="474.7" y="1067.9"/><use href="#sq" x="483.3" y="1069.1"/><use href="#sq" x="492.9" y="1072.5"/><use href="#sq" x="503.1" y="1075.3"/><use href="#sq" x="512.7" y="1079.8"/><use href="#sq" x="520.9" y="1082.8"/><use href="#sq" x="530.4" y="1086.9"/><use href="#sq" x="540" y="1090.3"/><use href="#sq" x="548.9" y="1095.1"/><use href="#sq" x="558.4" y="1097.8"/><use href="#sq" x="567.3" y="1098.5"/><use href="#sq" x="576.9" y="1098.5"/><use href="#sq" x="586.5" y="1099.2"/><use href="#sq" x="596" y="1099.2"/><use href="#sq" x="605.6" y="1099.2"/><use href="#sq" x="615.2" y="1099.2"/><use href="#sq" x="624.7" y="1099.2"/><use href="#sq" x="634.3" y="1099.2"/><use href="#sq" x="643.8" y="1099.5"/><use href="#sq" x="652.7" y="1099.5"/><use href="#sq" x="661.6" y="1099.5"/><use href="#sq" x="671.1" y="1099.5"/><use href="#sq" x="680.7" y="1099.9"/><use href="#sq" x="690.2" y="1099.5"/><use href="#sq" x="699.8" y="1099.2"/><use href="#sq" x="709.4" y="1099.2"/><use href="#sq" x="718.2" y="1099.2"/><use href="#sq" x="728.2" y="1099.5"/><use href="#sq" x="737.8" y="1099.9"/><use href="#sq" x="747.4" y="1100.3"/><use href="#sq" x="756.2" y="1100.8"/><use href="#sq" x="765.8" y="1101.6"/><use href="#sq" x="774.7" y="1102.2"/><use href="#sq" x="784.2" y="1102.3"/><use href="#sq" x="793.8" y="1101.9"/><use href="#sq" x="803.3" y="1101.6"/><use href="#sq" x="812.2" y="1101.5"/><use href="#sq" x="821.8" y="1101.2"/><use href="#sq" x="831.3" y="1100.8"/><use href="#sq" x="840.2" y="1100.3"/>
</g>
<path d="M147.7 1357.8L181.9 1357.5L190.1 1355.4L200.3 1344.5L209.9 1324L221.5 1301.5L228.6 1286.8L238.5 1262.6L248.5 1241.5L258.3 1218.9L267.9 1199.1L276.8 1181.1L285.6 1163.9L294.4 1141.5L303.5 1120.4L314.2 1090.8L323.1 1061L331.9 1032L340.8 1009.8L350.4 976.5L362.1 937.2L371.3 900.5L378.8 886.1L380.7 894.6L384.9 1040L387.1 1165.4L390.8 1146.9L400.5 1106.7L409.2 1068.2L416.9 1041.9L419.6 1032.4L425.3 1035.4L427 1040.6L428.6 1047.4L431.9 1041.7L434.9 1043.9L440.1 1047.7L446.1 1051.8L452.1 1055.9L457.3 1060.8L458.6 1063L460.8 1060.8L463 1061.1L468.5 1065.2L474.7 1067.9L483.3 1069.1L492.9 1072.5L503.1 1075.3L512.7 1079.8L520.9 1082.8L530.4 1086.9L540 1090.3L548.9 1095.1L558.4 1097.8L567.3 1098.5L576.9 1098.5L586.5 1099.2L596 1099.2L605.6 1099.2L615.2 1099.2L624.7 1099.2L634.3 1099.2L643.8 1099.5L652.7 1099.5L661.6 1099.5L671.1 1099.5L680.7 1099.9L690.2 1099.5L699.8 1099.2L709.4 1099.2L718.2 1099.2L728.2 1099.5L737.8 1099.9L747.4 1100.3L756.2 1100.8L765.8 1101.6L774.7 1102.2L784.2 1102.3L793.8 1101.9L803.3 1101.6L812.2 1101.5L821.8 1101.2L831.3 1100.8L840.2 1100.3" fill="none" stroke="#8000ff" stroke-width="2.0"/>
<g fill="#fff" stroke="#ff0000" stroke-width="1.9">
<use href="#ci" x="153.2" y="1356.5"/><use href="#ci" x="162.8" y="1355.4"/><use href="#ci" x="171.6" y="1352.7"/><use href="#ci" x="180.5" y="1348.6"/><use href="#ci" x="190.5" y="1329.5"/><use href="#ci" x="201.9" y="1305.3"/><use href="#ci" x="209.2" y="1287.9"/><use href="#ci" x="219.4" y="1265.3"/><use href="#ci" x="229.7" y="1243.9"/><use href="#ci" x="237.2" y="1229.4"/><use href="#ci" x="246.7" y="1208.7"/><use href="#ci" x="256.3" y="1190.7"/><use href="#ci" x="267.2" y="1169.1"/><use href="#ci" x="274.6" y="1151.8"/><use href="#ci" x="287.6" y="1124.1"/><use href="#ci" x="295.5" y="1100.6"/><use href="#ci" x="303.3" y="1079.4"/><use href="#ci" x="313.5" y="1046.7"/><use href="#ci" x="324.8" y="1012.8"/><use href="#ci" x="331.3" y="992.7"/><use href="#ci" x="342.2" y="954"/><use href="#ci" x="350.1" y="927.4"/><use href="#ci" x="361.3" y="887.1"/><use href="#ci" x="370.3" y="865.9"/><use href="#ci" x="382.9" y="1228.6"/><use href="#ci" x="390.2" y="1211.1"/><use href="#ci" x="397.7" y="1184.5"/><use href="#ci" x="407.3" y="1158.3"/><use href="#ci" x="416.9" y="1128.9"/><use href="#ci" x="427.6" y="1088.9"/><use href="#ci" x="443.8" y="1081.7"/><use href="#ci" x="454.7" y="1084.8"/><use href="#ci" x="464.9" y="1090.3"/><use href="#ci" x="471.7" y="1092.3"/><use href="#ci" x="482.7" y="1097.1"/><use href="#ci" x="492.2" y="1100.5"/><use href="#ci" x="501.1" y="1102.6"/><use href="#ci" x="510.6" y="1104.6"/><use href="#ci" x="520.5" y="1106"/><use href="#ci" x="529.8" y="1107.1"/><use href="#ci" x="539.3" y="1108"/><use href="#ci" x="548.9" y="1108.4"/><use href="#ci" x="558.4" y="1108.7"/><use href="#ci" x="568" y="1109.4"/><use href="#ci" x="575.5" y="1109.4"/><use href="#ci" x="585.8" y="1109.4"/><use href="#ci" x="595.4" y="1109.4"/><use href="#ci" x="604.9" y="1109.4"/><use href="#ci" x="614.5" y="1109.8"/><use href="#ci" x="624" y="1110.1"/><use href="#ci" x="633.6" y="1110.1"/><use href="#ci" x="642.5" y="1110.4"/><use href="#ci" x="652" y="1111.5"/><use href="#ci" x="661.6" y="1111.2"/><use href="#ci" x="671.1" y="1111.5"/><use href="#ci" x="680.7" y="1111.7"/><use href="#ci" x="688.9" y="1112.2"/><use href="#ci" x="697.1" y="1112.6"/><use href="#ci" x="707.3" y="1113.1"/><use href="#ci" x="717.5" y="1113.5"/><use href="#ci" x="727.6" y="1113.1"/><use href="#ci" x="737.1" y="1113.1"/><use href="#ci" x="746.7" y="1113.1"/><use href="#ci" x="755.5" y="1112.6"/><use href="#ci" x="765.1" y="1111.7"/><use href="#ci" x="774" y="1111.1"/><use href="#ci" x="783.5" y="1110.1"/><use href="#ci" x="793.8" y="1109.7"/><use href="#ci" x="802.6" y="1109.4"/><use href="#ci" x="812.2" y="1109.4"/><use href="#ci" x="821.8" y="1109.4"/><use href="#ci" x="830.6" y="1109.4"/><use href="#ci" x="840.2" y="1109.4"/>
</g>
<path d="M146.4 1357.9L153.2 1356.5L162.8 1355.4L171.6 1352.7L180.5 1348.6L190.5 1329.5L201.9 1305.3L209.2 1287.9L219.4 1265.3L229.7 1243.9L237.2 1229.4L246.7 1208.7L256.3 1190.7L267.2 1169.1L274.6 1151.8L287.6 1124.1L295.5 1100.6L303.3 1079.4L313.5 1046.7L324.8 1012.8L331.3 992.7L342.2 954L350.1 927.4L361.3 887.1L370.3 865.9L376 857.7L382.9 1228.6L390.2 1211.1L397.7 1184.5L407.3 1158.3L416.9 1128.9L427.6 1088.9L435.6 1070.5L439.2 1080.4L443.8 1081.7L454.7 1084.8L464.9 1090.3L471.7 1092.3L482.7 1097.1L492.2 1100.5L501.1 1102.6L510.6 1104.6L520.5 1106L529.8 1107.1L539.3 1108L548.9 1108.4L558.4 1108.7L568 1109.4L575.5 1109.4L585.8 1109.4L595.4 1109.4L604.9 1109.4L614.5 1109.8L624 1110.1L633.6 1110.1L642.5 1110.4L652 1111.5L661.6 1111.2L671.1 1111.5L680.7 1111.7L688.9 1112.2L697.1 1112.6L707.3 1113.1L717.5 1113.5L727.6 1113.1L737.1 1113.1L746.7 1113.1L755.5 1112.6L765.1 1111.7L774 1111.1L783.5 1110.1L793.8 1109.7L802.6 1109.4L812.2 1109.4L821.8 1109.4L830.6 1109.4L840.2 1109.4" fill="none" stroke="#ff0000" stroke-width="2.0"/>
<g fill="#fff" stroke="#00ff00" stroke-width="1.9">
<use href="#tr" x="164.1" y="1357.5"/><use href="#tr" x="173" y="1357.2"/><use href="#tr" x="181.9" y="1356.1"/><use href="#tr" x="190.8" y="1353.8"/><use href="#tr" x="201.4" y="1339.5"/><use href="#tr" x="210.5" y="1317.6"/><use href="#tr" x="220.1" y="1292.4"/><use href="#tr" x="229" y="1270.5"/><use href="#tr" x="238.9" y="1253.5"/><use href="#tr" x="247.4" y="1232.3"/><use href="#tr" x="257.6" y="1208.4"/><use href="#tr" x="267.2" y="1186.6"/><use href="#tr" x="276.1" y="1165.4"/><use href="#tr" x="284.8" y="1144"/><use href="#tr" x="295.1" y="1115.6"/><use href="#tr" x="304" y="1085"/><use href="#tr" x="312.8" y="1055.9"/><use href="#tr" x="322.4" y="1028.4"/><use href="#tr" x="332.6" y="992.5"/><use href="#tr" x="341.5" y="964.6"/><use href="#tr" x="350.8" y="932.6"/><use href="#tr" x="361" y="899.5"/><use href="#tr" x="370.9" y="864.3"/><use href="#tr" x="379.6" y="1146.4"/><use href="#tr" x="388.7" y="1100"/><use href="#tr" x="398.7" y="1055.9"/><use href="#tr" x="407.3" y="1027.6"/><use href="#tr" x="417.7" y="1053.8"/><use href="#tr" x="426.7" y="1057.9"/><use href="#tr" x="436.8" y="1063.1"/><use href="#tr" x="446.6" y="1070.5"/><use href="#tr" x="456.5" y="1074.1"/><use href="#tr" x="465.2" y="1076"/><use href="#tr" x="474.7" y="1078.7"/><use href="#tr" x="483.3" y="1081.8"/><use href="#tr" x="492.9" y="1087.3"/><use href="#tr" x="502.5" y="1090"/><use href="#tr" x="511.3" y="1091.4"/><use href="#tr" x="520.2" y="1092"/><use href="#tr" x="529.8" y="1091.4"/><use href="#tr" x="539.3" y="1091.4"/><use href="#tr" x="548.9" y="1091.4"/><use href="#tr" x="558.4" y="1090.7"/><use href="#tr" x="568" y="1090"/><use href="#tr" x="577.5" y="1089"/><use href="#tr" x="586.5" y="1089.1"/><use href="#tr" x="595.8" y="1087.6"/><use href="#tr" x="605.2" y="1086.6"/><use href="#tr" x="614.5" y="1085.3"/><use href="#tr" x="624" y="1084.3"/><use href="#tr" x="633.9" y="1083.2"/><use href="#tr" x="643.1" y="1082.1"/><use href="#tr" x="652.7" y="1082.3"/><use href="#tr" x="662.3" y="1083.2"/><use href="#tr" x="671.5" y="1090.7"/><use href="#tr" x="681.1" y="1088.4"/><use href="#tr" x="690.2" y="1088.3"/><use href="#tr" x="699.4" y="1088.9"/><use href="#tr" x="708.3" y="1090"/><use href="#tr" x="717.5" y="1090"/><use href="#tr" x="727.3" y="1090"/><use href="#tr" x="737.5" y="1091.1"/><use href="#tr" x="746.7" y="1091.4"/><use href="#tr" x="756.2" y="1091.7"/><use href="#tr" x="765.5" y="1091.4"/><use href="#tr" x="774.3" y="1091.4"/><use href="#tr" x="784.5" y="1093.4"/><use href="#tr" x="794" y="1093.4"/><use href="#tr" x="802.9" y="1093.4"/><use href="#tr" x="812.9" y="1093.4"/><use href="#tr" x="821.1" y="1092.8"/><use href="#tr" x="830.4" y="1093.4"/><use href="#tr" x="839.5" y="1094.1"/>
</g>
<path d="M159.4 1357.9L164.1 1357.5L173 1357.2L181.9 1356.1L190.8 1353.8L201.4 1339.5L210.5 1317.6L220.1 1292.4L229 1270.5L238.9 1253.5L247.4 1232.3L257.6 1208.4L267.2 1186.6L276.1 1165.4L284.8 1144L295.1 1115.6L304 1085L312.8 1055.9L322.4 1028.4L332.6 992.5L341.5 964.6L350.8 932.6L361 899.5L370.9 864.3L372.1 1179L379.6 1146.4L388.7 1100L398.7 1055.9L407.3 1027.6L417.7 1053.8L426.7 1057.9L436.8 1063.1L446.6 1070.5L456.5 1074.1L465.2 1076L474.7 1078.7L483.3 1081.8L492.9 1087.3L502.5 1090L511.3 1091.4L520.2 1092L529.8 1091.4L539.3 1091.4L548.9 1091.4L558.4 1090.7L568 1090L577.5 1089L586.5 1089.1L595.8 1087.6L605.2 1086.6L614.5 1085.3L624 1084.3L633.9 1083.2L643.1 1082.1L652.7 1082.3L662.3 1083.2L671.5 1090.7L681.1 1088.4L690.2 1088.3L699.4 1088.9L708.3 1090L717.5 1090L727.3 1090L737.5 1091.1L746.7 1091.4L756.2 1091.7L765.5 1091.4L774.3 1091.4L784.5 1093.4L794 1093.4L802.9 1093.4L812.9 1093.4L821.1 1092.8L830.4 1093.4L839.5 1094.1" fill="none" stroke="#00ff00" stroke-width="2.0"/>
</g>
<text x="488.9" y="1454.7" text-anchor="middle">Shear dispalcement (mm)</text>
<text transform="translate(74.6 1073.3) rotate(-90)" text-anchor="middle">Shear stress (MPa)</text>
<text x="5" y="811" font-size="66" font-weight="bold">(c)</text>
<rect x="618.8" y="1207.8" width="209" height="134" fill="#000"/>
<rect x="610.5" y="1199.5" width="209" height="134" fill="#fff" stroke="#6a6a6a" stroke-width="1"/>
<path d="M614.3 1223.3h80.6" stroke="#8000ff" stroke-width="2" fill="none"/>
<path d="M643.7 1212.5h21.2v21.2h-21.2z" stroke="#8000ff" stroke-width="3.3" fill="none" stroke-linejoin="miter"/>
<ellipse cx="654.3" cy="1223.3" rx="2.5" ry="1.9" fill="#8000ff"/>
<text x="703.1" y="1234.9">CG1-12</text>
<path d="M614.3 1266.5h80.6" stroke="#ff0000" stroke-width="2" fill="none"/>
<path d="M642.1 1266.3a12.2 12.2 0 1 0 24.4 0a12.2 12.2 0 1 0 -24.4 0z" stroke="#ff0000" stroke-width="3.3" fill="none" stroke-linejoin="round"/>
<ellipse cx="654.3" cy="1266.5" rx="2.5" ry="1.9" fill="#ff0000"/>
<text x="703.1" y="1278.1">CG2-12</text>
<path d="M614.3 1309.7h80.6" stroke="#00ff00" stroke-width="2" fill="none"/>
<path d="M654.3 1292.6L668.9 1318L639.7 1318z" stroke="#00ff00" stroke-width="3.3" fill="none" stroke-linejoin="round"/>
<ellipse cx="654.3" cy="1309.7" rx="2.5" ry="1.9" fill="#00ff00"/>
<text x="703.1" y="1321.3">CG3-12</text>
</g>
<g class="panel">
<text x="1035.55" y="1369.1" text-anchor="end">0</text>
<text x="1035.55" y="1305.99" text-anchor="end">2</text>
<text x="1035.55" y="1242.88" text-anchor="end">4</text>
<text x="1035.55" y="1179.77" text-anchor="end">6</text>
<text x="1035.55" y="1116.66" text-anchor="end">8</text>
<text x="1035.55" y="1053.54" text-anchor="end">10</text>
<text x="1035.55" y="990.43" text-anchor="end">12</text>
<text x="1035.55" y="927.32" text-anchor="end">14</text>
<text x="1035.55" y="864.21" text-anchor="end">16</text>
<text x="1035.55" y="801.1" text-anchor="end">18</text>
<text x="1048.15" y="1397.1" text-anchor="middle">0</text>
<text x="1189.4" y="1397.1" text-anchor="middle">2</text>
<text x="1330.65" y="1397.1" text-anchor="middle">4</text>
<text x="1471.9" y="1397.1" text-anchor="middle">6</text>
<text x="1613.15" y="1397.1" text-anchor="middle">8</text>
<text x="1754.4" y="1397.1" text-anchor="middle">10</text>
<path d="M1047.15 790H1755.4M1048.15 790V1359M1754.4 790V1359M1047.15 1358H1755.4M1048.15 1294.89h11.1M1048.15 1231.78h11.1M1048.15 1168.67h11.1M1048.15 1105.56h11.1M1048.15 1042.44h11.1M1048.15 979.33h11.1M1048.15 916.22h11.1M1048.15 853.11h11.1M1189.4 1358v-11.1M1330.65 1358v-11.1M1471.9 1358v-11.1M1613.15 1358v-11.1" stroke="#000" stroke-width="2" fill="none"/>
<clipPath id="cp3"><rect x="1047.65" y="789.5" width="707.25" height="569"/></clipPath>
<g clip-path="url(#cp3)" stroke-linejoin="round">
<g fill="#fff" stroke="#8000ff" stroke-width="1.9">
<use href="#sq" x="1067.3" y="1353.4"/><use href="#sq" x="1075.8" y="1350"/><use href="#sq" x="1085.7" y="1329.5"/><use href="#sq" x="1096.7" y="1306.3"/><use href="#sq" x="1103.9" y="1289.9"/><use href="#sq" x="1116.2" y="1264.4"/><use href="#sq" x="1124" y="1248.3"/><use href="#sq" x="1133.2" y="1231.9"/><use href="#sq" x="1141" y="1218.2"/><use href="#sq" x="1154" y="1195.3"/><use href="#sq" x="1159.5" y="1185.2"/><use href="#sq" x="1171.1" y="1169.1"/><use href="#sq" x="1180.5" y="1152"/><use href="#sq" x="1188" y="1138.4"/><use href="#sq" x="1199.4" y="1113.8"/><use href="#sq" x="1209.2" y="1090.6"/><use href="#sq" x="1218.5" y="1068.1"/><use href="#sq" x="1227.2" y="1042.4"/><use href="#sq" x="1237.2" y="1017.5"/><use href="#sq" x="1246.3" y="988.9"/><use href="#sq" x="1256.2" y="962.7"/><use href="#sq" x="1264.9" y="939.5"/><use href="#sq" x="1274.5" y="914.6"/><use href="#sq" x="1284.8" y="885.9"/><use href="#sq" x="1291.9" y="1177.6"/><use href="#sq" x="1301.7" y="1141.7"/><use href="#sq" x="1311" y="1112.8"/><use href="#sq" x="1322.6" y="1074.6"/><use href="#sq" x="1329.8" y="1056.1"/><use href="#sq" x="1340.7" y="1037.7"/><use href="#sq" x="1349.2" y="1044.8"/><use href="#sq" x="1360.8" y="1051"/><use href="#sq" x="1370.4" y="1055.5"/><use href="#sq" x="1379.2" y="1059.1"/><use href="#sq" x="1387.4" y="1062.3"/><use href="#sq" x="1397" y="1065.3"/><use href="#sq" x="1406.8" y="1068.7"/><use href="#sq" x="1416.1" y="1070.5"/><use href="#sq" x="1425.7" y="1072.5"/><use href="#sq" x="1435.2" y="1074.6"/><use href="#sq" x="1445.5" y="1076.2"/><use href="#sq" x="1454.6" y="1078.9"/><use href="#sq" x="1463.9" y="1080"/><use href="#sq" x="1473.4" y="1084.1"/><use href="#sq" x="1481" y="1083.5"/><use href="#sq" x="1490.5" y="1085.8"/><use href="#sq" x="1500.1" y="1086.2"/><use href="#sq" x="1509.6" y="1086.5"/><use href="#sq" x="1518.5" y="1087.2"/><use href="#sq" x="1528.1" y="1087.8"/><use href="#sq" x="1537.6" y="1088.3"/><use href="#sq" x="1547.2" y="1088.3"/><use href="#sq" x="1556" y="1088.3"/><use href="#sq" x="1565.6" y="1088.5"/><use href="#sq" x="1575.2" y="1088.5"/><use href="#sq" x="1584.7" y="1088.5"/><use href="#sq" x="1594.3" y="1088.5"/><use href="#sq" x="1603.8" y="1088.5"/><use href="#sq" x="1612.7" y="1088.5"/><use href="#sq" x="1622.3" y="1087.8"/><use href="#sq" x="1631.8" y="1087.8"/><use href="#sq" x="1641.4" y="1086.5"/><use href="#sq" x="1650.9" y="1086.2"/><use href="#sq" x="1660.5" y="1084.4"/><use href="#sq" x="1670" y="1082.4"/><use href="#sq" x="1678.9" y="1081"/><use href="#sq" x="1687.6" y="1081"/><use href="#sq" x="1697.9" y="1081"/><use href="#sq" x="1707.4" y="1076.2"/><use href="#sq" x="1717" y="1076.9"/><use href="#sq" x="1726.5" y="1074.2"/><use href="#sq" x="1736.1" y="1071.7"/><use href="#sq" x="1745" y="1068.7"/><use href="#sq" x="1753.8" y="1064.9"/>
</g>
<path d="M1057.7 1357.8L1067.3 1353.4L1075.8 1350L1085.7 1329.5L1096.7 1306.3L1103.9 1289.9L1116.2 1264.4L1124 1248.3L1133.2 1231.9L1141 1218.2L1154 1195.3L1159.5 1185.2L1171.1 1169.1L1180.5 1152L1188 1138.4L1199.4 1113.8L1209.2 1090.6L1218.5 1068.1L1227.2 1042.4L1237.2 1017.5L1246.3 988.9L1256.2 962.7L1264.9 939.5L1274.5 914.6L1284.8 885.9L1287.1 1192L1291.9 1177.6L1301.7 1141.7L1311 1112.8L1322.6 1074.6L1329.8 1056.1L1334.6 1038.7L1336.2 1035.4L1338.3 1038.3L1340.7 1037.7L1344.4 1041.9L1349.2 1044.8L1360.8 1051L1370.4 1055.5L1379.2 1059.1L1387.4 1062.3L1397 1065.3L1406.8 1068.7L1416.1 1070.5L1425.7 1072.5L1435.2 1074.6L1445.5 1076.2L1454.6 1078.9L1463.9 1080L1473.4 1084.1L1481 1083.5L1490.5 1085.8L1500.1 1086.2L1509.6 1086.5L1518.5 1087.2L1528.1 1087.8L1537.6 1088.3L1547.2 1088.3L1556 1088.3L1565.6 1088.5L1575.2 1088.5L1584.7 1088.5L1594.3 1088.5L1603.8 1088.5L1612.7 1088.5L1622.3 1087.8L1631.8 1087.8L1641.4 1086.5L1650.9 1086.2L1660.5 1084.4L1670 1082.4L1678.9 1081L1687.6 1081L1697.9 1081L1707.4 1076.2L1717 1076.9L1726.5 1074.2L1736.1 1071.7L1745 1068.7L1753.8 1064.9" fill="none" stroke="#8000ff" stroke-width="2.0"/>
<g fill="#fff" stroke="#ff0000" stroke-width="1.9">
<use href="#ci" x="1065.9" y="1354.1"/><use href="#ci" x="1075.8" y="1349.3"/><use href="#ci" x="1085.5" y="1332"/><use href="#ci" x="1096.7" y="1307"/><use href="#ci" x="1103.5" y="1291.7"/><use href="#ci" x="1115.8" y="1263.6"/><use href="#ci" x="1121.9" y="1248.7"/><use href="#ci" x="1131.5" y="1228.9"/><use href="#ci" x="1142.1" y="1209"/><use href="#ci" x="1153.6" y="1186.8"/><use href="#ci" x="1163.5" y="1171.1"/><use href="#ci" x="1169.3" y="1160.9"/><use href="#ci" x="1180.5" y="1142.5"/><use href="#ci" x="1189" y="1130.9"/><use href="#ci" x="1197.6" y="1110.4"/><use href="#ci" x="1208.2" y="1082.4"/><use href="#ci" x="1216.7" y="1062.3"/><use href="#ci" x="1228.3" y="1027.8"/><use href="#ci" x="1234.7" y="1010.3"/><use href="#ci" x="1244.7" y="981.4"/><use href="#ci" x="1255.8" y="950.4"/><use href="#ci" x="1267.4" y="914.2"/><use href="#ci" x="1273.2" y="897.1"/><use href="#ci" x="1282.1" y="872.2"/><use href="#ci" x="1293.6" y="847.7"/><use href="#ci" x="1301.4" y="1235.4"/><use href="#ci" x="1312.8" y="1204"/><use href="#ci" x="1320.1" y="1189.2"/><use href="#ci" x="1331.1" y="1159.6"/><use href="#ci" x="1340.8" y="1127.4"/><use href="#ci" x="1348.9" y="1099.1"/><use href="#ci" x="1358.8" y="1069.1"/><use href="#ci" x="1366.9" y="1056.3"/><use href="#ci" x="1376.3" y="1065.7"/><use href="#ci" x="1385.4" y="1068.2"/><use href="#ci" x="1395.2" y="1070.2"/><use href="#ci" x="1405" y="1076.3"/><use href="#ci" x="1416.1" y="1072.3"/><use href="#ci" x="1425.9" y="1071.4"/><use href="#ci" x="1435.7" y="1072.3"/><use href="#ci" x="1443.1" y="1082.9"/><use href="#ci" x="1451.7" y="1091.9"/><use href="#ci" x="1461.8" y="1085.1"/><use href="#ci" x="1472.5" y="1080.3"/><use href="#ci" x="1479.9" y="1080.8"/><use href="#ci" x="1490.2" y="1081.7"/><use href="#ci" x="1500.1" y="1082.4"/><use href="#ci" x="1508.9" y="1083.1"/><use href="#ci" x="1518.2" y="1083.3"/><use href="#ci" x="1527.6" y="1083.8"/><use href="#ci" x="1537.6" y="1084.4"/><use href="#ci" x="1546.8" y="1084.8"/><use href="#ci" x="1555.8" y="1085.4"/><use href="#ci" x="1564.9" y="1086.5"/><use href="#ci" x="1574.5" y="1083.8"/><use href="#ci" x="1584.7" y="1086.8"/><use href="#ci" x="1594.3" y="1083.8"/><use href="#ci" x="1603.5" y="1078.3"/><use href="#ci" x="1612.3" y="1087.2"/><use href="#ci" x="1621.3" y="1085.1"/><use href="#ci" x="1631.1" y="1083.1"/><use href="#ci" x="1640.7" y="1078.3"/><use href="#ci" x="1649.6" y="1073.5"/><use href="#ci" x="1659.8" y="1071.5"/><use href="#ci" x="1669.4" y="1070.1"/><use href="#ci" x="1678.9" y="1068.7"/><use href="#ci" x="1687.6" y="1068.7"/><use href="#ci" x="1697.2" y="1068.1"/><use href="#ci" x="1706.7" y="1066.7"/><use href="#ci" x="1716.3" y="1065.7"/><use href="#ci" x="1725.9" y="1064.6"/><use href="#ci" x="1735.4" y="1063.5"/><use href="#ci" x="1744.3" y="1073.1"/><use href="#ci" x="1752.5" y="1071.7"/>
</g>
<path d="M1048.6 1357.8L1057.7 1356.8L1065.9 1354.1L1075.8 1349.3L1085.5 1332L1096.7 1307L1103.5 1291.7L1115.8 1263.6L1121.9 1248.7L1131.5 1228.9L1142.1 1209L1153.6 1186.8L1163.5 1171.1L1169.3 1160.9L1180.5 1142.5L1189 1130.9L1197.6 1110.4L1208.2 1082.4L1216.7 1062.3L1228.3 1027.8L1234.7 1010.3L1244.7 981.4L1255.8 950.4L1267.4 914.2L1273.2 897.1L1282.1 872.2L1293.6 847.7L1296 1248.6L1301.4 1235.4L1312.8 1204L1320.1 1189.2L1331.1 1159.6L1340.8 1127.4L1348.9 1099.1L1358.8 1069.1L1361.2 1055.9L1362.4 1062.4L1366.9 1056.3L1371.4 1051.8L1374.7 1058.3L1376.3 1065.7L1385.4 1068.2L1395.2 1070.2L1396.8 1062.4L1398.9 1055.5L1402.6 1060.8L1405 1076.3L1410.8 1072.3L1416.1 1072.3L1425.9 1071.4L1435.7 1072.3L1438.6 1079.6L1443.1 1082.9L1448.4 1073.1L1451.7 1091.9L1456.4 1075.6L1461.8 1085.1L1465.3 1075.6L1472.5 1080.3L1479.9 1080.8L1490.2 1081.7L1500.1 1082.4L1508.9 1083.1L1518.2 1083.3L1527.6 1083.8L1537.6 1084.4L1546.8 1084.8L1555.8 1085.4L1564.9 1086.5L1574.5 1083.8L1584.7 1086.8L1594.3 1083.8L1603.5 1078.3L1607.9 1086.5L1612.3 1087.2L1616.1 1076.9L1621.3 1085.1L1624.3 1074.9L1631.1 1083.1L1640.7 1078.3L1649.6 1073.5L1657.1 1081.7L1659.8 1071.5L1666.6 1081.7L1669.4 1070.1L1675.5 1081L1678.9 1068.7L1683.5 1078.3L1687.6 1068.7L1692.4 1077.6L1697.2 1068.1L1702 1076.9L1706.7 1066.7L1711.5 1076.2L1716.3 1065.7L1721.1 1075.6L1725.9 1064.6L1730.6 1074.2L1735.4 1063.5L1739.5 1067.4L1744.3 1073.1L1749.1 1064.6L1752.5 1071.7" fill="none" stroke="#ff0000" stroke-width="2.0"/>
<g fill="#fff" stroke="#00ff00" stroke-width="1.9">
<use href="#tr" x="1050.2" y="1356.8"/><use href="#tr" x="1057.1" y="1354.8"/><use href="#tr" x="1066.6" y="1335.1"/><use href="#tr" x="1076.2" y="1316.3"/><use href="#tr" x="1086.1" y="1295.8"/><use href="#tr" x="1095.3" y="1277.4"/><use href="#tr" x="1107.6" y="1250.7"/><use href="#tr" x="1113.7" y="1239.8"/><use href="#tr" x="1122.9" y="1221.4"/><use href="#tr" x="1134.2" y="1200.6"/><use href="#tr" x="1141.7" y="1187.3"/><use href="#tr" x="1151.3" y="1166.8"/><use href="#tr" x="1162.1" y="1143.3"/><use href="#tr" x="1169.6" y="1126.5"/><use href="#tr" x="1180.5" y="1099.6"/><use href="#tr" x="1189.4" y="1078.7"/><use href="#tr" x="1198.9" y="1058"/><use href="#tr" x="1208.9" y="1032.3"/><use href="#tr" x="1217.1" y="1011.8"/><use href="#tr" x="1227.3" y="983.5"/><use href="#tr" x="1234.9" y="964.4"/><use href="#tr" x="1247.6" y="928.9"/><use href="#tr" x="1252.9" y="914.3"/><use href="#tr" x="1264.3" y="1202.6"/><use href="#tr" x="1275.5" y="1164.7"/><use href="#tr" x="1284.8" y="1136.8"/><use href="#tr" x="1293.2" y="1107.7"/><use href="#tr" x="1303.5" y="1077.7"/><use href="#tr" x="1313" y="1051.1"/><use href="#tr" x="1319.5" y="1040.5"/><use href="#tr" x="1330" y="1068.5"/><use href="#tr" x="1341.3" y="1073.7"/><use href="#tr" x="1347.7" y="1080.1"/><use href="#tr" x="1358.3" y="1085.9"/><use href="#tr" x="1369" y="1089.3"/><use href="#tr" x="1376.5" y="1090.7"/><use href="#tr" x="1386.8" y="1093.4"/><use href="#tr" x="1396.7" y="1096.4"/><use href="#tr" x="1405.9" y="1098.9"/><use href="#tr" x="1415.2" y="1101.3"/><use href="#tr" x="1425" y="1103.2"/><use href="#tr" x="1433.9" y="1104.6"/><use href="#tr" x="1442.7" y="1106.4"/><use href="#tr" x="1452.3" y="1107.7"/><use href="#tr" x="1462.5" y="1108.7"/><use href="#tr" x="1471.4" y="1109.1"/><use href="#tr" x="1481" y="1111.2"/><use href="#tr" x="1491.2" y="1112.1"/><use href="#tr" x="1499.4" y="1112.8"/><use href="#tr" x="1509.6" y="1112.8"/><use href="#tr" x="1518.5" y="1113.1"/><use href="#tr" x="1528.1" y="1113.1"/><use href="#tr" x="1537.3" y="1112.6"/><use href="#tr" x="1546.9" y="1112.1"/><use href="#tr" x="1556" y="1112.1"/><use href="#tr" x="1565.2" y="1112.6"/><use href="#tr" x="1574.5" y="1112.6"/><use href="#tr" x="1584" y="1112.6"/><use href="#tr" x="1594.3" y="1112.6"/><use href="#tr" x="1603.8" y="1112.1"/><use href="#tr" x="1613.4" y="1112.1"/><use href="#tr" x="1622.3" y="1112.1"/><use href="#tr" x="1631.1" y="1106.7"/><use href="#tr" x="1640.4" y="1104.6"/><use href="#tr" x="1650.2" y="1101.2"/><use href="#tr" x="1659.1" y="1102.6"/><use href="#tr" x="1670" y="1098.9"/><use href="#tr" x="1678.6" y="1100.5"/><use href="#tr" x="1687.6" y="1100.8"/><use href="#tr" x="1697.2" y="1104.6"/><use href="#tr" x="1706.5" y="1092.6"/><use href="#tr" x="1716" y="1091"/><use href="#tr" x="1725.9" y="1093"/><use href="#tr" x="1734.3" y="1087.2"/><use href="#tr" x="1745.7" y="1086.2"/><use href="#tr" x="1753.8" y="1086.9"/>
</g>
<path d="M1048.6 1357.9L1050.2 1356.8L1057.1 1354.8L1066.6 1335.1L1076.2 1316.3L1086.1 1295.8L1095.3 1277.4L1107.6 1250.7L1113.7 1239.8L1122.9 1221.4L1134.2 1200.6L1141.7 1187.3L1151.3 1166.8L1162.1 1143.3L1169.6 1126.5L1180.5 1099.6L1189.4 1078.7L1198.9 1058L1208.9 1032.3L1217.1 1011.8L1227.3 983.5L1234.9 964.4L1247.6 928.9L1252.9 914.3L1256.5 904.6L1264.3 1202.6L1269.4 1186.5L1275.5 1164.7L1284.8 1136.8L1293.2 1107.7L1303.5 1077.7L1313 1051.1L1319.5 1040.5L1330 1068.5L1341.3 1073.7L1347.7 1080.1L1358.3 1085.9L1369 1089.3L1376.5 1090.7L1386.8 1093.4L1396.7 1096.4L1405.9 1098.9L1415.2 1101.3L1425 1103.2L1433.9 1104.6L1442.7 1106.4L1452.3 1107.7L1462.5 1108.7L1471.4 1109.1L1481 1111.2L1491.2 1112.1L1499.4 1112.8L1509.6 1112.8L1518.5 1113.1L1528.1 1113.1L1537.3 1112.6L1546.9 1112.1L1556 1112.1L1565.2 1112.6L1574.5 1112.6L1584 1112.6L1594.3 1112.6L1603.8 1112.1L1613.4 1112.1L1622.3 1112.1L1631.1 1106.7L1640.4 1104.6L1650.2 1101.2L1652.6 1107.6L1659.1 1102.6L1670 1098.9L1678.6 1100.5L1687.6 1100.8L1697.2 1104.6L1706.5 1092.6L1716 1091L1725.9 1093L1734.3 1087.2L1745.7 1086.2L1753.8 1086.9" fill="none" stroke="#00ff00" stroke-width="2.0"/>
</g>
<text x="1402.2" y="1454.7" text-anchor="middle">Shear dispalcement (mm)</text>
<text transform="translate(987.6 1073.3) rotate(-90)" text-anchor="middle">Shear stress (MPa)</text>
<text x="892" y="811" font-size="66" font-weight="bold">(d)</text>
<rect x="1531.8" y="1209.8" width="210" height="134" fill="#000"/>
<rect x="1523.5" y="1201.5" width="210" height="134" fill="#fff" stroke="#6a6a6a" stroke-width="1"/>
<path d="M1527.3 1225.3h80.6" stroke="#8000ff" stroke-width="2" fill="none"/>
<path d="M1556.7 1214.5h21.2v21.2h-21.2z" stroke="#8000ff" stroke-width="3.3" fill="none" stroke-linejoin="miter"/>
<ellipse cx="1567.3" cy="1225.3" rx="2.5" ry="1.9" fill="#8000ff"/>
<text x="1616.1" y="1236.9">CG1-16</text>
<path d="M1527.3 1268.5h80.6" stroke="#ff0000" stroke-width="2" fill="none"/>
<path d="M1555.1 1268.3a12.2 12.2 0 1 0 24.4 0a12.2 12.2 0 1 0 -24.4 0z" stroke="#ff0000" stroke-width="3.3" fill="none" stroke-linejoin="round"/>
<ellipse cx="1567.3" cy="1268.5" rx="2.5" ry="1.9" fill="#ff0000"/>
<text x="1616.1" y="1280.1">CG2-16</text>
<path d="M1527.3 1311.7h80.6" stroke="#00ff00" stroke-width="2" fill="none"/>
<path d="M1567.3 1294.6L1581.9 1320L1552.7 1320z" stroke="#00ff00" stroke-width="3.3" fill="none" stroke-linejoin="round"/>
<ellipse cx="1567.3" cy="1311.7" rx="2.5" ry="1.9" fill="#00ff00"/>
<text x="1616.1" y="1323.3">CG3-16</text>
</g>
</svg>
</body>
</html>
